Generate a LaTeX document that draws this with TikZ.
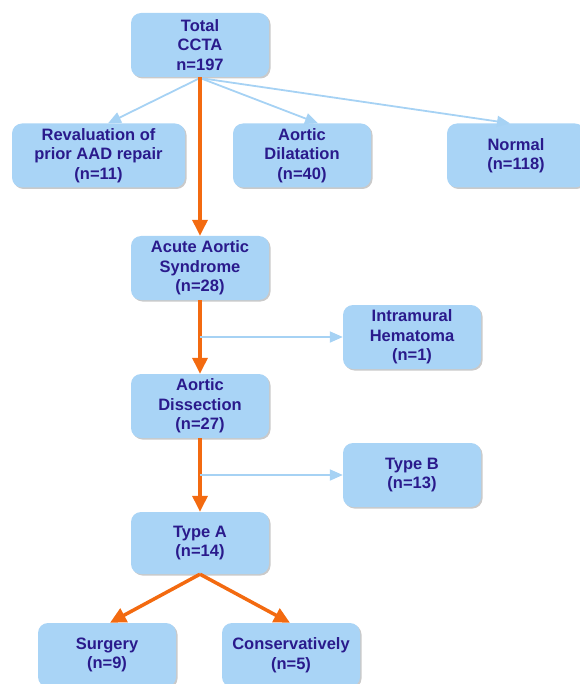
\documentclass[tikz,border=0pt]{standalone}
\usepackage{fontspec}
\setmainfont{Liberation Sans}
\usetikzlibrary{arrows.meta,shadows}
\definecolor{boxfill}{HTML}{A9D4F6}
\definecolor{txt}{HTML}{2A1A8C}
\definecolor{org}{HTML}{F36A10}
\definecolor{lblue}{HTML}{A6D2F4}
\tikzset{
  box/.style={draw=none, fill=boxfill, rounded corners=10pt, minimum width=138pt, minimum height=64pt,
    align=center, font=\fontsize{16.5}{19.5}\selectfont\bfseries, text=txt, inner sep=0pt,
    drop shadow={shadow xshift=1.5pt, shadow yshift=-1.5pt, opacity=0.35, fill=black!60}},
  thick arrow/.style={draw=org, line width=3.5pt, -{Triangle[length=16pt,width=15pt]}},
  thin arrow/.style={draw=lblue, line width=1.8pt, -{Triangle[length=13pt,width=11pt]}},
}
\begin{document}
\begin{tikzpicture}[x=1pt,y=-1pt]
\useasboundingbox (0,0) rectangle (579,684);
\node[box] (total) at (200,45) {Total\\CCTA\\n=197};
\node[box, minimum width=173pt] (reval) at (98.5,155.5) {Revaluation of\\prior AAD repair\\(n=11)};
\node[box] (dil) at (302,155.5) {Aortic\\Dilatation\\(n=40)};
\node[box, minimum width=138pt] (normal) at (516,155.5) {Normal\\(n=118)};
\node[box] (aas) at (200,268) {Acute Aortic\\Syndrome\\(n=28)};
\node[box] (imh) at (412,337) {Intramural\\Hematoma\\(n=1)};
\node[box] (ad) at (200,406) {Aortic\\Dissection\\(n=27)};
\node[box] (tb) at (412,475) {Type B\\(n=13)};
\node[box, minimum height=62pt] (ta) at (200,543) {Type A\\(n=14)};
\node[box, minimum height=64pt] (surg) at (107,655) {Surgery\\(n=9)};
\node[box, minimum height=64pt] (cons) at (291,655) {Conservatively\\(n=5)};
\coordinate (tb0) at (200,78);
\draw[thin arrow] (tb0) -- (reval.north -| 108,0);
\draw[thin arrow] (tb0) -- (dil.north -| 318,0);
\draw[thin arrow] (tb0) -- (normal.north -| 510,0);
\draw[thick arrow] (total.south) -- (aas.north);
\coordinate (j1) at (200,337);
\coordinate (j2) at (200,475);
\draw[thick arrow] (aas.south) -- (ad.north);
\draw[thin arrow] (j1) -- (imh.west);
\draw[thick arrow] (ad.south) -- (ta.north);
\draw[thin arrow] (j2) -- (tb.west);
\draw[thick arrow] (ta.south) -- (surg.north -| 110,0);
\draw[thick arrow] (ta.south) -- (cons.north -| 290,0);
\end{tikzpicture}
\end{document}
